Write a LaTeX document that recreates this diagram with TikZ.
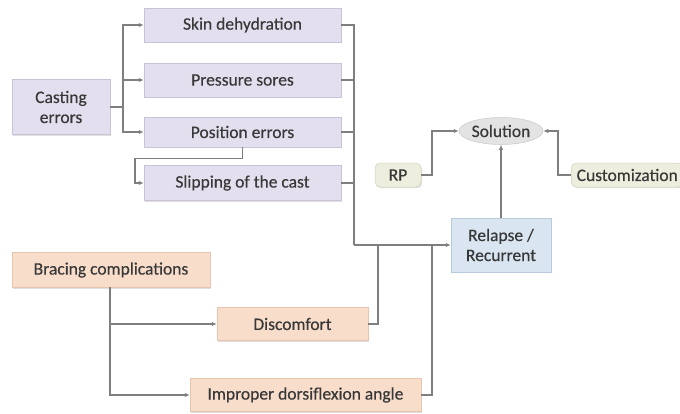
\documentclass[tikz,border=0pt]{standalone}
\usepackage{fontspec}
\setmainfont{Carlito}
\newfontfamily\lblfont[FakeBold=0.35]{Carlito}
\usetikzlibrary{arrows.meta,shapes.geometric,shadows}
\definecolor{castfill}{HTML}{E4DFEE}
\definecolor{castdraw}{HTML}{C9C2D8}
\definecolor{bracefill}{HTML}{F8DDCB}
\definecolor{bracedraw}{HTML}{E6C4AE}
\definecolor{bluefill}{HTML}{D9E6F1}
\definecolor{bluedraw}{HTML}{B8CCDD}
\definecolor{greenfill}{HTML}{EDEEDD}
\definecolor{greendraw}{HTML}{D0D2BC}
\definecolor{solfill}{HTML}{E3E3E3}
\definecolor{soldraw}{HTML}{C8C8C8}
\definecolor{linec}{HTML}{7F7F7F}
\definecolor{textc}{HTML}{383838}
\begin{document}
\begin{tikzpicture}[x=1pt,y=-1pt,
  lbl/.style={font=\lblfont\fontsize{17.5}{20}\selectfont\color{textc}},
  base/.style={lbl,line width=0.5pt,inner sep=0pt,align=center,
    drop shadow={shadow xshift=1.2pt,shadow yshift=-1.2pt,opacity=0.25}},
  cast/.style={base,draw=castdraw,fill=castfill},
  brace/.style={base,draw=bracedraw,fill=bracefill},
  blue box/.style={base,draw=bluedraw,fill=bluefill},
  green box/.style={base,draw=greendraw,fill=greenfill,rounded corners=5pt},
  conn/.style={draw=linec,line width=1.1pt},
  arr/.style={conn,-{Latex[length=5pt,width=4.5pt]}}]
\useasboundingbox (0,0) rectangle (680,413);
% casting
\node[cast,minimum width=98pt,minimum height=55pt] (ce) at (61,107) {Casting\\errors};
\node[cast,minimum width=197pt,minimum height=34pt] (sd) at (242.5,25) {Skin dehydration};
\node[cast,minimum width=197pt,minimum height=34pt] (ps) at (242.5,80) {Pressure sores};
\node[cast,minimum width=197pt,minimum height=30pt] (pe) at (242.5,132) {Position errors};
\node[cast,minimum width=197pt,minimum height=35pt] (sc) at (242.5,183) {Slipping of the cast};
% bracing
\node[brace,minimum width=198pt,minimum height=35pt] (bc) at (111,270) {Bracing complications};
\node[brace,minimum width=151pt,minimum height=33pt] (dc) at (292.5,324) {Discomfort};
\node[brace,minimum width=231pt,minimum height=33pt] (ida) at (305.5,395) {Improper dorsiflexion angle};
% right
\node[blue box,minimum width=100pt,minimum height=54pt] (rr) at (501,245) {Relapse /\\Recurrent};
\node[ellipse,lbl,draw=soldraw,fill=solfill,line width=0.5pt,minimum width=84pt,minimum height=27pt,inner sep=0pt] (so) at (501,131) {Solution};
\node[green box,minimum width=46pt,minimum height=24pt] (rp) at (398,175) {RP};
\node[green box,minimum width=112pt,minimum height=24pt,anchor=west] (cu) at (571,175) {Customization};
% casting connectors
\coordinate (j1) at (123,107);
\draw[conn] (ce.east) -- (j1);
\draw[arr] (j1) |- (sd.west);
\draw[arr] (j1) |- (ps.west);
\draw[arr] (j1) |- (pe.west);
\draw[arr] (pe.south) -- ++(0,11) -| (135,183) -- (sc.west);
% right collector
\coordinate (k) at (354,245);
\draw[conn] (sd.east) -- (354,25) -- (k);
\draw[conn] (ps.east) -- (354,80);
\draw[conn] (pe.east) -- (354,132);
\draw[conn] (sc.east) -- (354,183);
\draw[arr] (k) -- (rr.west);
\draw[conn] (dc.east) -- (378,324) -- (378,245);
\draw[conn] (ida.east) -- (432,395) -- (432,245);
% bracing connectors
\coordinate (b0) at (110,287);
\draw[arr] (b0) |- (dc.west);
\draw[arr] (b0) |- (ida.west);
% solution connectors
\draw[arr] (rr.north) -- (so.south);
\draw[arr] (rp.east) -- (432,175) |- (so.west);
\draw[arr] (cu.west) -- (558,175) |- (so.east);
\end{tikzpicture}
\end{document}
